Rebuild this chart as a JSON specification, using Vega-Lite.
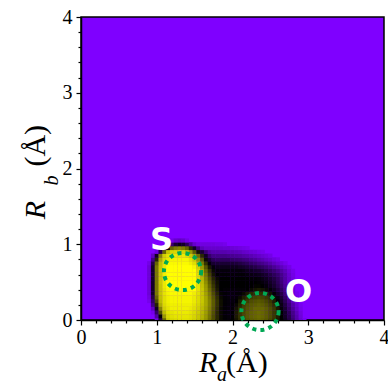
{
"$schema":"https://vega.github.io/schema/vega-lite/v6.json",
"width":303,"height":303,
"autosize":{"type":"none"},
"padding":{"left":81,"top":17,"right":4,"bottom":61},
"config":{"view":{"fill":"#7f00ff","stroke":"#000000","strokeWidth":1.5}},
"encoding":{
"x":{"field":"a","type":"quantitative","scale":{"domain":[0,4],"nice":false,"zero":false},
"axis":{"grid":false,"title":null,"domainColor":"#000000","domainWidth":1.5,"tickColor":"#000000","tickWidth":1.2,"labelFont":"Liberation Serif","labelFontSize":20,"labelColor":"#000000","labelOverlap":false,"labelFlush":false,"labelPadding":2,"values":[0,0.2,0.4,0.6,0.8,1,1.2,1.4,1.6,1.8,2,2.2,2.4,2.6,2.8,3,3.2,3.4,3.6,3.8,4],"labelExpr":"datum.value == round(datum.value) ? '' + datum.value : ''","tickSize":{"condition":{"test":"datum.value == round(datum.value)","value":5},"value":3}}},
"y":{"field":"b","type":"quantitative","scale":{"domain":[0,4],"nice":false,"zero":false},
"axis":{"grid":false,"title":null,"domainColor":"#000000","domainWidth":1.5,"tickColor":"#000000","tickWidth":1.2,"labelFont":"Liberation Serif","labelFontSize":20,"labelColor":"#000000","labelOverlap":false,"labelFlush":false,"labelPadding":4,"values":[0,0.2,0.4,0.6,0.8,1,1.2,1.4,1.6,1.8,2,2.2,2.4,2.6,2.8,3,3.2,3.4,3.6,3.8,4],"labelExpr":"datum.value == round(datum.value) ? '' + datum.value : ''","tickSize":{"condition":{"test":"datum.value == round(datum.value)","value":5},"value":3}}}},
"layer":[
{"data":{"values":[
{"a":1,"b":0,"v":6},{"a":1.05,"b":0,"v":36},{"a":1.1,"b":0,"v":70},{"a":1.15,"b":0,"v":89},{"a":1.2,"b":0,"v":92},{"a":1.25,"b":0,"v":93},{"a":1.3,"b":0,"v":94},{"a":1.35,"b":0,"v":94},{"a":1.4,"b":0,"v":94},{"a":1.45,"b":0,"v":93},{"a":1.5,"b":0,"v":91},{"a":1.55,"b":0,"v":88},{"a":1.6,"b":0,"v":84},{"a":1.65,"b":0,"v":79},{"a":1.7,"b":0,"v":72},{"a":1.75,"b":0,"v":65},{"a":1.8,"b":0,"v":58},{"a":1.85,"b":0,"v":52},{"a":1.9,"b":0,"v":49},{"a":1.95,"b":0,"v":48},{"a":2,"b":0,"v":50},{"a":2.05,"b":0,"v":54},{"a":2.1,"b":0,"v":59},{"a":2.15,"b":0,"v":63},{"a":2.2,"b":0,"v":66},{"a":2.25,"b":0,"v":68},{"a":2.3,"b":0,"v":69},{"a":2.35,"b":0,"v":70},{"a":2.4,"b":0,"v":69},{"a":2.45,"b":0,"v":67},{"a":2.5,"b":0,"v":64},{"a":2.55,"b":0,"v":60},{"a":2.6,"b":0,"v":55},{"a":2.65,"b":0,"v":50},{"a":2.7,"b":0,"v":44},{"a":2.75,"b":0,"v":36},{"a":2.8,"b":0,"v":27},{"a":2.85,"b":0,"v":17},{"a":2.9,"b":0,"v":9},{"a":2.95,"b":0,"v":3},
{"a":1,"b":0.05,"v":18},{"a":1.05,"b":0.05,"v":50},{"a":1.1,"b":0.05,"v":80},{"a":1.15,"b":0.05,"v":92},{"a":1.2,"b":0.05,"v":94},{"a":1.25,"b":0.05,"v":95},{"a":1.3,"b":0.05,"v":95},{"a":1.35,"b":0.05,"v":95},{"a":1.4,"b":0.05,"v":95},{"a":1.45,"b":0.05,"v":94},{"a":1.5,"b":0.05,"v":92},{"a":1.55,"b":0.05,"v":89},{"a":1.6,"b":0.05,"v":85},{"a":1.65,"b":0.05,"v":80},{"a":1.7,"b":0.05,"v":73},{"a":1.75,"b":0.05,"v":65},{"a":1.8,"b":0.05,"v":58},{"a":1.85,"b":0.05,"v":52},{"a":1.9,"b":0.05,"v":49},{"a":1.95,"b":0.05,"v":48},{"a":2,"b":0.05,"v":50},{"a":2.05,"b":0.05,"v":55},{"a":2.1,"b":0.05,"v":60},{"a":2.15,"b":0.05,"v":64},{"a":2.2,"b":0.05,"v":67},{"a":2.25,"b":0.05,"v":69},{"a":2.3,"b":0.05,"v":70},{"a":2.35,"b":0.05,"v":71},{"a":2.4,"b":0.05,"v":70},{"a":2.45,"b":0.05,"v":68},{"a":2.5,"b":0.05,"v":65},{"a":2.55,"b":0.05,"v":61},{"a":2.6,"b":0.05,"v":56},{"a":2.65,"b":0.05,"v":50},{"a":2.7,"b":0.05,"v":43},{"a":2.75,"b":0.05,"v":35},{"a":2.8,"b":0.05,"v":25},{"a":2.85,"b":0.05,"v":16},{"a":2.9,"b":0.05,"v":7},
{"a":0.95,"b":0.1,"v":4},{"a":1,"b":0.1,"v":30},{"a":1.05,"b":0.1,"v":65},{"a":1.1,"b":0.1,"v":87},{"a":1.15,"b":0.1,"v":94},{"a":1.2,"b":0.1,"v":95},{"a":1.25,"b":0.1,"v":96},{"a":1.3,"b":0.1,"v":96},{"a":1.35,"b":0.1,"v":96},{"a":1.4,"b":0.1,"v":96},{"a":1.45,"b":0.1,"v":95},{"a":1.5,"b":0.1,"v":93},{"a":1.55,"b":0.1,"v":90},{"a":1.6,"b":0.1,"v":86},{"a":1.65,"b":0.1,"v":81},{"a":1.7,"b":0.1,"v":74},{"a":1.75,"b":0.1,"v":66},{"a":1.8,"b":0.1,"v":58},{"a":1.85,"b":0.1,"v":52},{"a":1.9,"b":0.1,"v":49},{"a":1.95,"b":0.1,"v":48},{"a":2,"b":0.1,"v":50},{"a":2.05,"b":0.1,"v":55},{"a":2.1,"b":0.1,"v":60},{"a":2.15,"b":0.1,"v":64},{"a":2.2,"b":0.1,"v":67},{"a":2.25,"b":0.1,"v":69},{"a":2.3,"b":0.1,"v":70},{"a":2.35,"b":0.1,"v":71},{"a":2.4,"b":0.1,"v":70},{"a":2.45,"b":0.1,"v":68},{"a":2.5,"b":0.1,"v":65},{"a":2.55,"b":0.1,"v":61},{"a":2.6,"b":0.1,"v":56},{"a":2.65,"b":0.1,"v":50},{"a":2.7,"b":0.1,"v":42},{"a":2.75,"b":0.1,"v":33},{"a":2.8,"b":0.1,"v":23},{"a":2.85,"b":0.1,"v":14},{"a":2.9,"b":0.1,"v":6},
{"a":0.95,"b":0.15,"v":12},{"a":1,"b":0.15,"v":43},{"a":1.05,"b":0.15,"v":76},{"a":1.1,"b":0.15,"v":91},{"a":1.15,"b":0.15,"v":95},{"a":1.2,"b":0.15,"v":97},{"a":1.25,"b":0.15,"v":97},{"a":1.3,"b":0.15,"v":97},{"a":1.35,"b":0.15,"v":97},{"a":1.4,"b":0.15,"v":97},{"a":1.45,"b":0.15,"v":96},{"a":1.5,"b":0.15,"v":94},{"a":1.55,"b":0.15,"v":91},{"a":1.6,"b":0.15,"v":87},{"a":1.65,"b":0.15,"v":82},{"a":1.7,"b":0.15,"v":75},{"a":1.75,"b":0.15,"v":67},{"a":1.8,"b":0.15,"v":59},{"a":1.85,"b":0.15,"v":52},{"a":1.9,"b":0.15,"v":49},{"a":1.95,"b":0.15,"v":48},{"a":2,"b":0.15,"v":49},{"a":2.05,"b":0.15,"v":54},{"a":2.1,"b":0.15,"v":59},{"a":2.15,"b":0.15,"v":63},{"a":2.2,"b":0.15,"v":66},{"a":2.25,"b":0.15,"v":68},{"a":2.3,"b":0.15,"v":70},{"a":2.35,"b":0.15,"v":70},{"a":2.4,"b":0.15,"v":70},{"a":2.45,"b":0.15,"v":68},{"a":2.5,"b":0.15,"v":65},{"a":2.55,"b":0.15,"v":61},{"a":2.6,"b":0.15,"v":55},{"a":2.65,"b":0.15,"v":48},{"a":2.7,"b":0.15,"v":40},{"a":2.75,"b":0.15,"v":30},{"a":2.8,"b":0.15,"v":20},{"a":2.85,"b":0.15,"v":11},{"a":2.9,"b":0.15,"v":4},
{"a":0.95,"b":0.2,"v":24},{"a":1,"b":0.2,"v":57},{"a":1.05,"b":0.2,"v":84},{"a":1.1,"b":0.2,"v":93},{"a":1.15,"b":0.2,"v":96},{"a":1.2,"b":0.2,"v":97},{"a":1.25,"b":0.2,"v":97},{"a":1.3,"b":0.2,"v":97},{"a":1.35,"b":0.2,"v":97},{"a":1.4,"b":0.2,"v":97},{"a":1.45,"b":0.2,"v":97},{"a":1.5,"b":0.2,"v":95},{"a":1.55,"b":0.2,"v":92},{"a":1.6,"b":0.2,"v":88},{"a":1.65,"b":0.2,"v":83},{"a":1.7,"b":0.2,"v":76},{"a":1.75,"b":0.2,"v":68},{"a":1.8,"b":0.2,"v":60},{"a":1.85,"b":0.2,"v":53},{"a":1.9,"b":0.2,"v":49},{"a":1.95,"b":0.2,"v":48},{"a":2,"b":0.2,"v":49},{"a":2.05,"b":0.2,"v":52},{"a":2.1,"b":0.2,"v":57},{"a":2.15,"b":0.2,"v":62},{"a":2.2,"b":0.2,"v":65},{"a":2.25,"b":0.2,"v":67},{"a":2.3,"b":0.2,"v":68},{"a":2.35,"b":0.2,"v":69},{"a":2.4,"b":0.2,"v":68},{"a":2.45,"b":0.2,"v":66},{"a":2.5,"b":0.2,"v":63},{"a":2.55,"b":0.2,"v":59},{"a":2.6,"b":0.2,"v":53},{"a":2.65,"b":0.2,"v":46},{"a":2.7,"b":0.2,"v":37},{"a":2.75,"b":0.2,"v":27},{"a":2.8,"b":0.2,"v":17},{"a":2.85,"b":0.2,"v":9},{"a":2.9,"b":0.2,"v":3},
{"a":0.9,"b":0.25,"v":4},{"a":0.95,"b":0.25,"v":30},{"a":1,"b":0.25,"v":65},{"a":1.05,"b":0.25,"v":87},{"a":1.1,"b":0.25,"v":94},{"a":1.15,"b":0.25,"v":97},{"a":1.2,"b":0.25,"v":98},{"a":1.25,"b":0.25,"v":98},{"a":1.3,"b":0.25,"v":98},{"a":1.35,"b":0.25,"v":98},{"a":1.4,"b":0.25,"v":98},{"a":1.45,"b":0.25,"v":98},{"a":1.5,"b":0.25,"v":96},{"a":1.55,"b":0.25,"v":93},{"a":1.6,"b":0.25,"v":89},{"a":1.65,"b":0.25,"v":83},{"a":1.7,"b":0.25,"v":76},{"a":1.75,"b":0.25,"v":68},{"a":1.8,"b":0.25,"v":60},{"a":1.85,"b":0.25,"v":53},{"a":1.9,"b":0.25,"v":49},{"a":1.95,"b":0.25,"v":48},{"a":2,"b":0.25,"v":48},{"a":2.05,"b":0.25,"v":50},{"a":2.1,"b":0.25,"v":55},{"a":2.15,"b":0.25,"v":59},{"a":2.2,"b":0.25,"v":62},{"a":2.25,"b":0.25,"v":65},{"a":2.3,"b":0.25,"v":66},{"a":2.35,"b":0.25,"v":67},{"a":2.4,"b":0.25,"v":66},{"a":2.45,"b":0.25,"v":64},{"a":2.5,"b":0.25,"v":61},{"a":2.55,"b":0.25,"v":56},{"a":2.6,"b":0.25,"v":50},{"a":2.65,"b":0.25,"v":43},{"a":2.7,"b":0.25,"v":33},{"a":2.75,"b":0.25,"v":23},{"a":2.8,"b":0.25,"v":13},{"a":2.85,"b":0.25,"v":6},
{"a":0.9,"b":0.3,"v":6},{"a":0.95,"b":0.3,"v":36},{"a":1,"b":0.3,"v":70},{"a":1.05,"b":0.3,"v":88},{"a":1.1,"b":0.3,"v":94},{"a":1.15,"b":0.3,"v":97},{"a":1.2,"b":0.3,"v":98},{"a":1.25,"b":0.3,"v":98},{"a":1.3,"b":0.3,"v":98},{"a":1.35,"b":0.3,"v":98},{"a":1.4,"b":0.3,"v":98},{"a":1.45,"b":0.3,"v":98},{"a":1.5,"b":0.3,"v":96},{"a":1.55,"b":0.3,"v":93},{"a":1.6,"b":0.3,"v":89},{"a":1.65,"b":0.3,"v":83},{"a":1.7,"b":0.3,"v":75},{"a":1.75,"b":0.3,"v":67},{"a":1.8,"b":0.3,"v":59},{"a":1.85,"b":0.3,"v":52},{"a":1.9,"b":0.3,"v":49},{"a":1.95,"b":0.3,"v":48},{"a":2,"b":0.3,"v":48},{"a":2.05,"b":0.3,"v":49},{"a":2.1,"b":0.3,"v":52},{"a":2.15,"b":0.3,"v":56},{"a":2.2,"b":0.3,"v":59},{"a":2.25,"b":0.3,"v":62},{"a":2.3,"b":0.3,"v":63},{"a":2.35,"b":0.3,"v":64},{"a":2.4,"b":0.3,"v":63},{"a":2.45,"b":0.3,"v":61},{"a":2.5,"b":0.3,"v":58},{"a":2.55,"b":0.3,"v":53},{"a":2.6,"b":0.3,"v":47},{"a":2.65,"b":0.3,"v":40},{"a":2.7,"b":0.3,"v":30},{"a":2.75,"b":0.3,"v":19},{"a":2.8,"b":0.3,"v":10},{"a":2.85,"b":0.3,"v":4},
{"a":0.9,"b":0.35,"v":8},{"a":0.95,"b":0.35,"v":42},{"a":1,"b":0.35,"v":74},{"a":1.05,"b":0.35,"v":89},{"a":1.1,"b":0.35,"v":95},{"a":1.15,"b":0.35,"v":98},{"a":1.2,"b":0.35,"v":99},{"a":1.25,"b":0.35,"v":99},{"a":1.3,"b":0.35,"v":99},{"a":1.35,"b":0.35,"v":99},{"a":1.4,"b":0.35,"v":99},{"a":1.45,"b":0.35,"v":99},{"a":1.5,"b":0.35,"v":97},{"a":1.55,"b":0.35,"v":94},{"a":1.6,"b":0.35,"v":89},{"a":1.65,"b":0.35,"v":82},{"a":1.7,"b":0.35,"v":74},{"a":1.75,"b":0.35,"v":65},{"a":1.8,"b":0.35,"v":57},{"a":1.85,"b":0.35,"v":51},{"a":1.9,"b":0.35,"v":49},{"a":1.95,"b":0.35,"v":48},{"a":2,"b":0.35,"v":48},{"a":2.05,"b":0.35,"v":49},{"a":2.1,"b":0.35,"v":49},{"a":2.15,"b":0.35,"v":52},{"a":2.2,"b":0.35,"v":55},{"a":2.25,"b":0.35,"v":58},{"a":2.3,"b":0.35,"v":59},{"a":2.35,"b":0.35,"v":60},{"a":2.4,"b":0.35,"v":59},{"a":2.45,"b":0.35,"v":57},{"a":2.5,"b":0.35,"v":54},{"a":2.55,"b":0.35,"v":49},{"a":2.6,"b":0.35,"v":43},{"a":2.65,"b":0.35,"v":36},{"a":2.7,"b":0.35,"v":26},{"a":2.75,"b":0.35,"v":16},{"a":2.8,"b":0.35,"v":8},{"a":2.85,"b":0.35,"v":3},
{"a":0.9,"b":0.4,"v":8},{"a":0.95,"b":0.4,"v":42},{"a":1,"b":0.4,"v":74},{"a":1.05,"b":0.4,"v":89},{"a":1.1,"b":0.4,"v":95},{"a":1.15,"b":0.4,"v":99},{"a":1.2,"b":0.4,"v":100},{"a":1.25,"b":0.4,"v":100},{"a":1.3,"b":0.4,"v":100},{"a":1.35,"b":0.4,"v":100},{"a":1.4,"b":0.4,"v":100},{"a":1.45,"b":0.4,"v":100},{"a":1.5,"b":0.4,"v":100},{"a":1.55,"b":0.4,"v":95},{"a":1.6,"b":0.4,"v":89},{"a":1.65,"b":0.4,"v":81},{"a":1.7,"b":0.4,"v":72},{"a":1.75,"b":0.4,"v":63},{"a":1.8,"b":0.4,"v":55},{"a":1.85,"b":0.4,"v":50},{"a":1.9,"b":0.4,"v":49},{"a":1.95,"b":0.4,"v":49},{"a":2,"b":0.4,"v":49},{"a":2.05,"b":0.4,"v":49},{"a":2.1,"b":0.4,"v":49},{"a":2.15,"b":0.4,"v":49},{"a":2.2,"b":0.4,"v":50},{"a":2.25,"b":0.4,"v":52},{"a":2.3,"b":0.4,"v":54},{"a":2.35,"b":0.4,"v":55},{"a":2.4,"b":0.4,"v":54},{"a":2.45,"b":0.4,"v":52},{"a":2.5,"b":0.4,"v":49},{"a":2.55,"b":0.4,"v":45},{"a":2.6,"b":0.4,"v":39},{"a":2.65,"b":0.4,"v":32},{"a":2.7,"b":0.4,"v":23},{"a":2.75,"b":0.4,"v":14},{"a":2.8,"b":0.4,"v":7},
{"a":0.9,"b":0.45,"v":8},{"a":0.95,"b":0.45,"v":42},{"a":1,"b":0.45,"v":74},{"a":1.05,"b":0.45,"v":89},{"a":1.1,"b":0.45,"v":96},{"a":1.15,"b":0.45,"v":100},{"a":1.2,"b":0.45,"v":100},{"a":1.25,"b":0.45,"v":100},{"a":1.3,"b":0.45,"v":100},{"a":1.35,"b":0.45,"v":100},{"a":1.4,"b":0.45,"v":100},{"a":1.45,"b":0.45,"v":100},{"a":1.5,"b":0.45,"v":100},{"a":1.55,"b":0.45,"v":95},{"a":1.6,"b":0.45,"v":88},{"a":1.65,"b":0.45,"v":80},{"a":1.7,"b":0.45,"v":70},{"a":1.75,"b":0.45,"v":61},{"a":1.8,"b":0.45,"v":54},{"a":1.85,"b":0.45,"v":50},{"a":1.9,"b":0.45,"v":50},{"a":1.95,"b":0.45,"v":50},{"a":2,"b":0.45,"v":50},{"a":2.05,"b":0.45,"v":50},{"a":2.1,"b":0.45,"v":50},{"a":2.15,"b":0.45,"v":50},{"a":2.2,"b":0.45,"v":50},{"a":2.25,"b":0.45,"v":50},{"a":2.3,"b":0.45,"v":51},{"a":2.35,"b":0.45,"v":51},{"a":2.4,"b":0.45,"v":50},{"a":2.45,"b":0.45,"v":48},{"a":2.5,"b":0.45,"v":45},{"a":2.55,"b":0.45,"v":41},{"a":2.6,"b":0.45,"v":35},{"a":2.65,"b":0.45,"v":28},{"a":2.7,"b":0.45,"v":20},{"a":2.75,"b":0.45,"v":12},{"a":2.8,"b":0.45,"v":6},
{"a":0.9,"b":0.5,"v":8},{"a":0.95,"b":0.5,"v":42},{"a":1,"b":0.5,"v":74},{"a":1.05,"b":0.5,"v":90},{"a":1.1,"b":0.5,"v":96},{"a":1.15,"b":0.5,"v":100},{"a":1.2,"b":0.5,"v":100},{"a":1.25,"b":0.5,"v":100},{"a":1.3,"b":0.5,"v":100},{"a":1.35,"b":0.5,"v":100},{"a":1.4,"b":0.5,"v":100},{"a":1.45,"b":0.5,"v":100},{"a":1.5,"b":0.5,"v":100},{"a":1.55,"b":0.5,"v":95},{"a":1.6,"b":0.5,"v":87},{"a":1.65,"b":0.5,"v":78},{"a":1.7,"b":0.5,"v":68},{"a":1.75,"b":0.5,"v":59},{"a":1.8,"b":0.5,"v":53},{"a":1.85,"b":0.5,"v":50},{"a":1.9,"b":0.5,"v":50},{"a":1.95,"b":0.5,"v":50},{"a":2,"b":0.5,"v":50},{"a":2.05,"b":0.5,"v":50},{"a":2.1,"b":0.5,"v":50},{"a":2.15,"b":0.5,"v":50},{"a":2.2,"b":0.5,"v":50},{"a":2.25,"b":0.5,"v":50},{"a":2.3,"b":0.5,"v":50},{"a":2.35,"b":0.5,"v":49},{"a":2.4,"b":0.5,"v":48},{"a":2.45,"b":0.5,"v":46},{"a":2.5,"b":0.5,"v":43},{"a":2.55,"b":0.5,"v":39},{"a":2.6,"b":0.5,"v":33},{"a":2.65,"b":0.5,"v":26},{"a":2.7,"b":0.5,"v":18},{"a":2.75,"b":0.5,"v":11},{"a":2.8,"b":0.5,"v":5},
{"a":0.9,"b":0.55,"v":8},{"a":0.95,"b":0.55,"v":42},{"a":1,"b":0.55,"v":74},{"a":1.05,"b":0.55,"v":90},{"a":1.1,"b":0.55,"v":96},{"a":1.15,"b":0.55,"v":100},{"a":1.2,"b":0.55,"v":100},{"a":1.25,"b":0.55,"v":100},{"a":1.3,"b":0.55,"v":100},{"a":1.35,"b":0.55,"v":100},{"a":1.4,"b":0.55,"v":100},{"a":1.45,"b":0.55,"v":100},{"a":1.5,"b":0.55,"v":100},{"a":1.55,"b":0.55,"v":94},{"a":1.6,"b":0.55,"v":86},{"a":1.65,"b":0.55,"v":76},{"a":1.7,"b":0.55,"v":66},{"a":1.75,"b":0.55,"v":57},{"a":1.8,"b":0.55,"v":52},{"a":1.85,"b":0.55,"v":50},{"a":1.9,"b":0.55,"v":50},{"a":1.95,"b":0.55,"v":50},{"a":2,"b":0.55,"v":50},{"a":2.05,"b":0.55,"v":50},{"a":2.1,"b":0.55,"v":50},{"a":2.15,"b":0.55,"v":50},{"a":2.2,"b":0.55,"v":50},{"a":2.25,"b":0.55,"v":49},{"a":2.3,"b":0.55,"v":49},{"a":2.35,"b":0.55,"v":48},{"a":2.4,"b":0.55,"v":46},{"a":2.45,"b":0.55,"v":44},{"a":2.5,"b":0.55,"v":41},{"a":2.55,"b":0.55,"v":37},{"a":2.6,"b":0.55,"v":32},{"a":2.65,"b":0.55,"v":25},{"a":2.7,"b":0.55,"v":18},{"a":2.75,"b":0.55,"v":11},{"a":2.8,"b":0.55,"v":6},
{"a":0.9,"b":0.6,"v":8},{"a":0.95,"b":0.6,"v":42},{"a":1,"b":0.6,"v":74},{"a":1.05,"b":0.6,"v":90},{"a":1.1,"b":0.6,"v":97},{"a":1.15,"b":0.6,"v":100},{"a":1.2,"b":0.6,"v":100},{"a":1.25,"b":0.6,"v":100},{"a":1.3,"b":0.6,"v":100},{"a":1.35,"b":0.6,"v":100},{"a":1.4,"b":0.6,"v":100},{"a":1.45,"b":0.6,"v":100},{"a":1.5,"b":0.6,"v":100},{"a":1.55,"b":0.6,"v":94},{"a":1.6,"b":0.6,"v":85},{"a":1.65,"b":0.6,"v":74},{"a":1.7,"b":0.6,"v":63},{"a":1.75,"b":0.6,"v":54},{"a":1.8,"b":0.6,"v":50},{"a":1.85,"b":0.6,"v":49},{"a":1.9,"b":0.6,"v":49},{"a":1.95,"b":0.6,"v":49},{"a":2,"b":0.6,"v":49},{"a":2.05,"b":0.6,"v":49},{"a":2.1,"b":0.6,"v":49},{"a":2.15,"b":0.6,"v":49},{"a":2.2,"b":0.6,"v":48},{"a":2.25,"b":0.6,"v":47},{"a":2.3,"b":0.6,"v":46},{"a":2.35,"b":0.6,"v":45},{"a":2.4,"b":0.6,"v":43},{"a":2.45,"b":0.6,"v":41},{"a":2.5,"b":0.6,"v":37},{"a":2.55,"b":0.6,"v":33},{"a":2.6,"b":0.6,"v":29},{"a":2.65,"b":0.6,"v":23},{"a":2.7,"b":0.6,"v":17},{"a":2.75,"b":0.6,"v":10},{"a":2.8,"b":0.6,"v":5},
{"a":0.9,"b":0.65,"v":8},{"a":0.95,"b":0.65,"v":42},{"a":1,"b":0.65,"v":74},{"a":1.05,"b":0.65,"v":90},{"a":1.1,"b":0.65,"v":97},{"a":1.15,"b":0.65,"v":100},{"a":1.2,"b":0.65,"v":100},{"a":1.25,"b":0.65,"v":100},{"a":1.3,"b":0.65,"v":100},{"a":1.35,"b":0.65,"v":100},{"a":1.4,"b":0.65,"v":100},{"a":1.45,"b":0.65,"v":100},{"a":1.5,"b":0.65,"v":100},{"a":1.55,"b":0.65,"v":93},{"a":1.6,"b":0.65,"v":83},{"a":1.65,"b":0.65,"v":71},{"a":1.7,"b":0.65,"v":60},{"a":1.75,"b":0.65,"v":52},{"a":1.8,"b":0.65,"v":48},{"a":1.85,"b":0.65,"v":48},{"a":1.9,"b":0.65,"v":48},{"a":1.95,"b":0.65,"v":48},{"a":2,"b":0.65,"v":48},{"a":2.05,"b":0.65,"v":48},{"a":2.1,"b":0.65,"v":48},{"a":2.15,"b":0.65,"v":47},{"a":2.2,"b":0.65,"v":45},{"a":2.25,"b":0.65,"v":44},{"a":2.3,"b":0.65,"v":42},{"a":2.35,"b":0.65,"v":41},{"a":2.4,"b":0.65,"v":38},{"a":2.45,"b":0.65,"v":35},{"a":2.5,"b":0.65,"v":32},{"a":2.55,"b":0.65,"v":28},{"a":2.6,"b":0.65,"v":24},{"a":2.65,"b":0.65,"v":19},{"a":2.7,"b":0.65,"v":14},{"a":2.75,"b":0.65,"v":8},{"a":2.8,"b":0.65,"v":4},
{"a":0.9,"b":0.7,"v":8},{"a":0.95,"b":0.7,"v":42},{"a":1,"b":0.7,"v":74},{"a":1.05,"b":0.7,"v":89},{"a":1.1,"b":0.7,"v":96},{"a":1.15,"b":0.7,"v":100},{"a":1.2,"b":0.7,"v":100},{"a":1.25,"b":0.7,"v":100},{"a":1.3,"b":0.7,"v":100},{"a":1.35,"b":0.7,"v":100},{"a":1.4,"b":0.7,"v":100},{"a":1.45,"b":0.7,"v":100},{"a":1.5,"b":0.7,"v":98},{"a":1.55,"b":0.7,"v":91},{"a":1.6,"b":0.7,"v":80},{"a":1.65,"b":0.7,"v":67},{"a":1.7,"b":0.7,"v":55},{"a":1.75,"b":0.7,"v":48},{"a":1.8,"b":0.7,"v":45},{"a":1.85,"b":0.7,"v":45},{"a":1.9,"b":0.7,"v":45},{"a":1.95,"b":0.7,"v":45},{"a":2,"b":0.7,"v":45},{"a":2.05,"b":0.7,"v":45},{"a":2.1,"b":0.7,"v":43},{"a":2.15,"b":0.7,"v":42},{"a":2.2,"b":0.7,"v":40},{"a":2.25,"b":0.7,"v":38},{"a":2.3,"b":0.7,"v":36},{"a":2.35,"b":0.7,"v":33},{"a":2.4,"b":0.7,"v":31},{"a":2.45,"b":0.7,"v":28},{"a":2.5,"b":0.7,"v":25},{"a":2.55,"b":0.7,"v":21},{"a":2.6,"b":0.7,"v":17},{"a":2.65,"b":0.7,"v":13},{"a":2.7,"b":0.7,"v":9},{"a":2.75,"b":0.7,"v":5},
{"a":0.9,"b":0.75,"v":5},{"a":0.95,"b":0.75,"v":36},{"a":1,"b":0.75,"v":70},{"a":1.05,"b":0.75,"v":88},{"a":1.1,"b":0.75,"v":95},{"a":1.15,"b":0.75,"v":99},{"a":1.2,"b":0.75,"v":99},{"a":1.25,"b":0.75,"v":99},{"a":1.3,"b":0.75,"v":99},{"a":1.35,"b":0.75,"v":99},{"a":1.4,"b":0.75,"v":99},{"a":1.45,"b":0.75,"v":97},{"a":1.5,"b":0.75,"v":94},{"a":1.55,"b":0.75,"v":86},{"a":1.6,"b":0.75,"v":74},{"a":1.65,"b":0.75,"v":60},{"a":1.7,"b":0.75,"v":48},{"a":1.75,"b":0.75,"v":41},{"a":1.8,"b":0.75,"v":40},{"a":1.85,"b":0.75,"v":40},{"a":1.9,"b":0.75,"v":40},{"a":1.95,"b":0.75,"v":40},{"a":2,"b":0.75,"v":40},{"a":2.05,"b":0.75,"v":39},{"a":2.1,"b":0.75,"v":37},{"a":2.15,"b":0.75,"v":35},{"a":2.2,"b":0.75,"v":33},{"a":2.25,"b":0.75,"v":30},{"a":2.3,"b":0.75,"v":28},{"a":2.35,"b":0.75,"v":25},{"a":2.4,"b":0.75,"v":23},{"a":2.45,"b":0.75,"v":20},{"a":2.5,"b":0.75,"v":17},{"a":2.55,"b":0.75,"v":13},{"a":2.6,"b":0.75,"v":10},{"a":2.65,"b":0.75,"v":7},{"a":2.7,"b":0.75,"v":4},
{"a":0.95,"b":0.8,"v":24},{"a":1,"b":0.8,"v":57},{"a":1.05,"b":0.8,"v":84},{"a":1.1,"b":0.8,"v":93},{"a":1.15,"b":0.8,"v":96},{"a":1.2,"b":0.8,"v":98},{"a":1.25,"b":0.8,"v":98},{"a":1.3,"b":0.8,"v":98},{"a":1.35,"b":0.8,"v":98},{"a":1.4,"b":0.8,"v":98},{"a":1.45,"b":0.8,"v":95},{"a":1.5,"b":0.8,"v":90},{"a":1.55,"b":0.8,"v":80},{"a":1.6,"b":0.8,"v":67},{"a":1.65,"b":0.8,"v":52},{"a":1.7,"b":0.8,"v":40},{"a":1.75,"b":0.8,"v":33},{"a":1.8,"b":0.8,"v":31},{"a":1.85,"b":0.8,"v":32},{"a":1.9,"b":0.8,"v":32},{"a":1.95,"b":0.8,"v":32},{"a":2,"b":0.8,"v":30},{"a":2.05,"b":0.8,"v":29},{"a":2.1,"b":0.8,"v":28},{"a":2.15,"b":0.8,"v":26},{"a":2.2,"b":0.8,"v":25},{"a":2.25,"b":0.8,"v":22},{"a":2.3,"b":0.8,"v":20},{"a":2.35,"b":0.8,"v":17},{"a":2.4,"b":0.8,"v":15},{"a":2.45,"b":0.8,"v":12},{"a":2.5,"b":0.8,"v":10},{"a":2.55,"b":0.8,"v":7},{"a":2.6,"b":0.8,"v":5},
{"a":0.95,"b":0.85,"v":12},{"a":1,"b":0.85,"v":43},{"a":1.05,"b":0.85,"v":76},{"a":1.1,"b":0.85,"v":91},{"a":1.15,"b":0.85,"v":95},{"a":1.2,"b":0.85,"v":96},{"a":1.25,"b":0.85,"v":96},{"a":1.3,"b":0.85,"v":96},{"a":1.35,"b":0.85,"v":96},{"a":1.4,"b":0.85,"v":94},{"a":1.45,"b":0.85,"v":90},{"a":1.5,"b":0.85,"v":83},{"a":1.55,"b":0.85,"v":72},{"a":1.6,"b":0.85,"v":58},{"a":1.65,"b":0.85,"v":43},{"a":1.7,"b":0.85,"v":30},{"a":1.75,"b":0.85,"v":24},{"a":1.8,"b":0.85,"v":24},{"a":1.85,"b":0.85,"v":24},{"a":1.9,"b":0.85,"v":24},{"a":1.95,"b":0.85,"v":23},{"a":2,"b":0.85,"v":22},{"a":2.05,"b":0.85,"v":21},{"a":2.1,"b":0.85,"v":20},{"a":2.15,"b":0.85,"v":18},{"a":2.2,"b":0.85,"v":17},{"a":2.25,"b":0.85,"v":15},{"a":2.3,"b":0.85,"v":13},{"a":2.35,"b":0.85,"v":11},{"a":2.4,"b":0.85,"v":9},{"a":2.45,"b":0.85,"v":7},{"a":2.5,"b":0.85,"v":5},
{"a":1,"b":0.9,"v":6},{"a":1.05,"b":0.9,"v":36},{"a":1.1,"b":0.9,"v":70},{"a":1.15,"b":0.9,"v":89},{"a":1.2,"b":0.9,"v":92},{"a":1.25,"b":0.9,"v":93},{"a":1.3,"b":0.9,"v":93},{"a":1.35,"b":0.9,"v":92},{"a":1.4,"b":0.9,"v":88},{"a":1.45,"b":0.9,"v":80},{"a":1.5,"b":0.9,"v":68},{"a":1.55,"b":0.9,"v":54},{"a":1.6,"b":0.9,"v":40},{"a":1.65,"b":0.9,"v":28},{"a":1.7,"b":0.9,"v":19},{"a":1.75,"b":0.9,"v":16},{"a":1.8,"b":0.9,"v":16},{"a":1.85,"b":0.9,"v":16},{"a":1.9,"b":0.9,"v":16},{"a":1.95,"b":0.9,"v":15},{"a":2,"b":0.9,"v":15},{"a":2.05,"b":0.9,"v":14},{"a":2.1,"b":0.9,"v":13},{"a":2.15,"b":0.9,"v":11},{"a":2.2,"b":0.9,"v":10},{"a":2.25,"b":0.9,"v":8},{"a":2.3,"b":0.9,"v":7},{"a":2.35,"b":0.9,"v":5},{"a":2.4,"b":0.9,"v":4},
{"a":1.1,"b":0.95,"v":15},{"a":1.15,"b":0.95,"v":47},{"a":1.2,"b":0.95,"v":70},{"a":1.25,"b":0.95,"v":75},{"a":1.3,"b":0.95,"v":77},{"a":1.35,"b":0.95,"v":75},{"a":1.4,"b":0.95,"v":70},{"a":1.45,"b":0.95,"v":58},{"a":1.5,"b":0.95,"v":42},{"a":1.55,"b":0.95,"v":25},{"a":1.6,"b":0.95,"v":14},{"a":1.65,"b":0.95,"v":10},{"a":1.7,"b":0.95,"v":10},{"a":1.75,"b":0.95,"v":10},{"a":1.8,"b":0.95,"v":10},{"a":1.85,"b":0.95,"v":10},{"a":1.9,"b":0.95,"v":9},{"a":1.95,"b":0.95,"v":9},{"a":2,"b":0.95,"v":8},{"a":2.05,"b":0.95,"v":7},{"a":2.1,"b":0.95,"v":6},{"a":2.15,"b":0.95,"v":5},{"a":2.2,"b":0.95,"v":4},
{"a":1.15,"b":1,"v":12},{"a":1.2,"b":1,"v":28},{"a":1.25,"b":1,"v":40},{"a":1.3,"b":1,"v":45},{"a":1.35,"b":1,"v":42},{"a":1.4,"b":1,"v":33},{"a":1.45,"b":1,"v":20},{"a":1.5,"b":1,"v":10},{"a":1.55,"b":1,"v":6},{"a":1.6,"b":1,"v":6},{"a":1.65,"b":1,"v":6},{"a":1.7,"b":1,"v":6},{"a":1.75,"b":1,"v":6},{"a":1.8,"b":1,"v":5},{"a":1.85,"b":1,"v":5},{"a":1.9,"b":1,"v":4},
{"a":1.2,"b":1.05,"v":5},{"a":1.25,"b":1.05,"v":10},{"a":1.3,"b":1.05,"v":12},{"a":1.35,"b":1.05,"v":10},{"a":1.4,"b":1.05,"v":5}
]},
"mark":{"type":"point","shape":"square","filled":true,"size":17,"strokeWidth":0,"opacity":1,"clip":true},
"encoding":{"color":{"field":"v","type":"quantitative","scale":{"domain":[0,50,100],"range":["#7f00ff","#000000","#ffff00"],"interpolate":"rgb"},"legend":null}}},
{"data":{"values":[{"a":1.34,"b":0.64},{"a":2.363,"b":0.112}]},
"mark":{"type":"point","shape":"circle","filled":false,"size":1385,"stroke":"#00a854","strokeWidth":4,"strokeDash":[4,4.2],"opacity":1}},
{"data":{"values":[{"t":"S","a":1.063,"b":0.924},{"t":"O","a":2.871,"b":0.238}]},
"mark":{"type":"text","font":"DejaVu Sans","fontWeight":"bold","fontSize":32,"color":"#ffffff","align":"center","baseline":"alphabetic"},
"encoding":{"text":{"field":"t"}}},
{"data":{"values":[{"t":"R","a":1.677,"b":-0.687}]},
"mark":{"type":"text","font":"Liberation Serif","fontStyle":"italic","fontSize":30,"color":"#000000","align":"center","baseline":"alphabetic"},
"encoding":{"text":{"field":"t"}}},
{"data":{"values":[{"t":"a","a":1.861,"b":-0.8}]},
"mark":{"type":"text","font":"Liberation Serif","fontStyle":"italic","fontSize":20,"color":"#000000","align":"center","baseline":"alphabetic"},
"encoding":{"text":{"field":"t"}}},
{"data":{"values":[{"t":"(Å)","a":2.19,"b":-0.687}]},
"mark":{"type":"text","font":"Liberation Serif","fontSize":30,"color":"#000000","align":"center","baseline":"alphabetic"},
"encoding":{"text":{"field":"t"}}},
{"data":{"values":[{"t":"R","a":-0.475,"b":1.45}]},
"mark":{"type":"text","font":"Liberation Serif","fontStyle":"italic","fontSize":30,"color":"#000000","align":"center","baseline":"alphabetic","angle":270},
"encoding":{"text":{"field":"t"}}},
{"data":{"values":[{"t":"b","a":-0.304,"b":1.84}]},
"mark":{"type":"text","font":"Liberation Serif","fontStyle":"italic","fontSize":20,"color":"#000000","align":"center","baseline":"alphabetic","angle":270},
"encoding":{"text":{"field":"t"}}},
{"data":{"values":[{"t":"(Å)","a":-0.475,"b":2.3}]},
"mark":{"type":"text","font":"Liberation Serif","fontSize":30,"color":"#000000","align":"center","baseline":"alphabetic","angle":270},
"encoding":{"text":{"field":"t"}}}
]
}
